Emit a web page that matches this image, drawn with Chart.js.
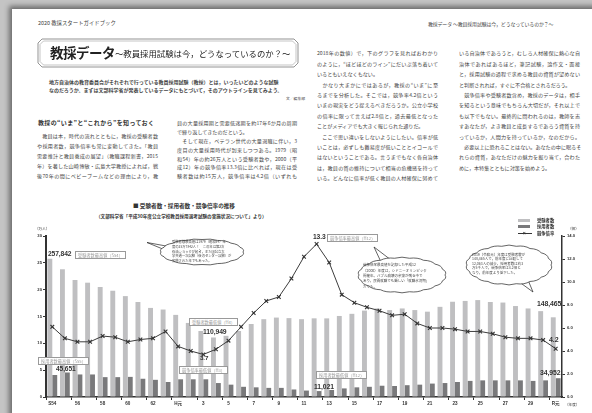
<!DOCTYPE html>
<html><head><meta charset="utf-8">
<script src="https://cdn.jsdelivr.net/npm/chart.js@4"></script>
<style>
html,body{margin:0;padding:0;width:592px;height:413px;overflow:hidden;background:#c4c4c4;}
body{position:relative;font-family:"Noto Sans CJK JP","Noto Sans",sans-serif;color:#333;}
.page{position:absolute;left:12px;top:9px;width:620px;height:430px;background:#fff;box-shadow:-2px -2px 5px 1px rgba(0,0,0,0.45);}
.t{position:absolute;white-space:nowrap;line-height:1;}
.ln{position:absolute;white-space:nowrap;line-height:1;text-align:justify;text-align-last:justify;font-size:5.1px;color:#444;}
.ln.l{text-align-last:left;}
.num{position:absolute;white-space:nowrap;line-height:1;font-family:"Liberation Sans",Arial,sans-serif;font-weight:bold;color:#333;letter-spacing:-0.1px;}
.box{position:absolute;white-space:nowrap;line-height:1;border:0.7px solid #9a9a9a;background:#fff;color:#9a9a9a;font-size:4.2px;padding:1px 2px;}
#cv{position:absolute;left:0;top:190px;}
svg{position:absolute;left:0;top:0;}
</style></head>
<body>
<div class="page"></div>

<div class="t" style="left:38px;top:21px;font-size:5.4px;color:#444;">2020 教採スタートガイドブック</div>
<div class="t" style="left:428px;top:21.5px;font-size:4.9px;color:#444;letter-spacing:-0.1px;">教採データ ～教員採用試験は今，どうなっているのか？～</div>

<svg width="592" height="413" style="z-index:1">
  <polygon points="42,39 294,39 298,43 298,63 294,67 42,67 38,63 38,43" fill="none" stroke="#666" stroke-width="0.7"/>
  <polygon points="43.5,41 292.5,41 296,44.5 296,61.5 292.5,65 43.5,65 40,61.5 40,44.5" fill="none" stroke="#888" stroke-width="0.5"/>
</svg>
<div class="t" style="left:50px;top:46px;font-size:13.5px;font-weight:bold;color:#222;letter-spacing:-0.5px;z-index:2">教採データ</div>
<div class="t" style="left:115px;top:49px;font-size:8.4px;color:#222;z-index:2">～教員採用試験は今，どうなっているのか？～</div>

<div class="t" style="left:49px;top:78.5px;font-size:5px;font-weight:bold;color:#444;">地方自治体の教育委員会がそれぞれで行っている教員採用試験（教採）とは，いったいどのような試験</div>
<div class="t" style="left:49px;top:87px;font-size:5px;font-weight:bold;color:#444;">なのだろうか。まずは文部科学省が発表しているデータにもとづいて，そのアウトラインを見てみよう。</div>
<div class="t" style="left:286px;top:97px;font-size:3.8px;color:#444;">文／編集部</div>

<div class="t" style="left:38px;top:120px;font-size:6px;font-weight:bold;color:#333;letter-spacing:0.35px;">教採の“いま”と“これから”を知っておく</div>

<div id="cols"></div>

<div class="t" style="left:133px;top:204px;font-size:5.6px;font-weight:bold;color:#333;">■ 受験者数・採用者数・競争倍率の推移</div>
<div class="t" style="left:96px;top:213.5px;font-size:4.6px;font-weight:bold;color:#333;">（文部科学省「平成30年度公立学校教員採用選考試験の実施状況について」より）</div>

<canvas id="cv" width="592" height="223"></canvas>

<svg id="bub" width="592" height="413" style="z-index:3"></svg>
<div id="ann" style="position:absolute;left:0;top:0;z-index:4"></div>

<script>
// ---------- data ----------
const categories = ['S54','S55','S56','S57','S58','S59','S60','S61','S62','S63',
  'H元','H2','H3','H4','H5','H6','H7','H8','H9','H10',
  'H11','H12','H13','H14','H15','H16','H17','H18','H19','H20',
  'H21','H22','H23','H24','H25','H26','H27','H28','H29','H30','R元'];
const tickLabels = ['S54','','56','','58','','60','','62','',
  'H元','','3','','5','','7','','9','',
  '11','','13','','15','','17','','19','',
  '21','','23','','25','','27','','29','','R元'];
// 受験者数（万人）
const applicants = [25.78,23.8,21.8,21.3,20.5,19.8,18.8,17.7,16.6,16.3,
  15.3,13.8,12.3,11.09,11.4,12.3,13.6,14.5,14.8,14.7,
  14.5,14.66,14.65,15.1,15.5,16.1,16.5,16.2,16.5,16.2,
  15.9,16.8,17.75,17.9,18.06,17.7,17.6,16.95,16.5,16.0,14.85];
// 採用者数（万人）
const hires = [4.1,4.565,4.2,4.2,3.7,3.7,3.75,3.4,3.2,2.8,
  3.3,3.3,3.3,2.6,2.3,1.9,1.8,1.7,1.7,1.4,
  1.2,1.102,1.3,1.6,1.8,1.9,2.1,2.05,2.2,2.3,
  2.5,2.6,2.8,3.0,3.1,3.1,3.1,3.1,3.0,3.1,3.5];
// 競争倍率（倍）
const rates = [6.1,5.1,4.8,4.8,5.3,5.2,4.8,5.0,5.1,5.7,
  4.4,4.0,3.7,4.15,4.9,6.1,7.3,8.35,8.7,10.3,
  12.2,13.3,11.7,8.9,8.2,7.8,7.5,7.1,7.2,6.4,
  6.0,6.0,5.9,5.7,5.7,5.5,5.2,5.1,5.1,4.95,4.2];
const leftTicksMax = 30, rightTicksMax = 14;

// ---------- page text ----------
const colText = [
  {x:37,w:121,y0:136,dy:10,lines:[
    ['　教員は本，時代の流れとともに，教採の受験者数',1],
    ['や採用者数，競争倍率も常に変動してきた。「教員',1],
    ['需要推計と教員養成の展望」（教職課程新書，2015',1],
    ['年）を著した山崎博敏・広島大学教授によれば，戦',1],
    ['後70年の間にベビーブームなどの理由により，教',1]]},
  {x:177,w:120,y0:123,dy:8.8,lines:[
    ['員の大量採用期と需要低迷期を約17年6か月の周期',1],
    ['で繰り返してきたのだという。',0],
    ['　そして現在，ベテラン世代の大量退職に伴い，3',1],
    ['度目の大量採用時代が到来しつつある。1979（昭',1],
    ['和54）年の約26万人という受験者数や，2000（平',1],
    ['成12）年の競争倍率13.3倍に比べれば，現在は受',1],
    ['験者数は約15万人，競争倍率は4.2倍（いずれも',1]]},
  {x:317,w:121,y0:53,dy:10.4,lines:[
    ['2018年の数値）で，下のグラフを見ればおわかり',1],
    ['のように，“ほどほどのライン”にだいぶ落ち着いて',1],
    ['いるともいえなくもない。',0],
    ['　かなり大まかにではあるが，教採の“いま”に至',1],
    ['るまでを分析した。そこでは，競争率4.2倍という',1],
    ['いまの現実をどう捉えるべきだろうか。公立小学校',1],
    ['の倍率に限って言えば2.8倍と，過去最低となった',1],
    ['ことがメディアでも大きく報じられた通りだ。',0],
    ['　ここで思い違いをしないようにしたい。倍率が低',1],
    ['いことは，必ずしも難易度が低いこととイコールで',1],
    ['はないということである。言うまでもなく各自治体',1],
    ['は，教員の質の維持について相当の危機感を持って',1],
    ['いる。どんなに倍率が低く教員の人材確保に努めて',1]]},
  {x:459,w:121,y0:53,dy:10.4,lines:[
    ['いる自治体であろうと，むしろ人材確保に熱心な自',1],
    ['治体であればあるほど，筆記試験，論作文・面接',1],
    ['と，採用試験の過程で求める教員の資質が望めない',1],
    ['と判断されれば，すぐに不合格とされるだろう。',0],
    ['　競争倍率や受験者数含め，教採のデータは，相手',1],
    ['を知るという意味でもちろん大切だが，それ以上で',1],
    ['も以下でもない。最終的に問われるのは，教師を志',1],
    ['すあなたが，よき教員と成長するであろう資質を持',1],
    ['っているか，人間力を持っているか，なのだから。',1],
    ['　必要以上に恐れることはない。あなたの中に眠るそ',1],
    ['れらの資質，あなただけの魅力を掘り当て，合わた',1],
    ['めに，本特集とともに対策を始めよう。',0]]}
];
const cols = document.getElementById('cols');
colText.forEach(c=>{
  c.lines.forEach((l,i)=>{
    const d=document.createElement('div');
    d.className='ln'+(l[1]?'':' l');
    d.style.left=c.x+'px'; d.style.width=c.w+'px';
    d.style.top=(c.y0+i*c.dy-2.6)+'px';
    d.textContent=l[0];
    cols.appendChild(d);
  });
});

// ---------- chart ----------
const FONT = '"Liberation Sans", "Noto Sans CJK JP", sans-serif';
const chart = new Chart(document.getElementById('cv'), {
  data:{
    labels:categories,
    datasets:[
      {type:'line',label:'競争倍率',data:rates,yAxisID:'y2',order:0,
       borderColor:'#3c3c3c',borderWidth:1,tension:0,
       pointStyle:'crossRot',pointRadius:2.6,pointBorderWidth:1.1,
       pointBorderColor:'#333',pointBackgroundColor:'#333'},
      {type:'bar',label:'受験者数',data:applicants,yAxisID:'y',order:1,
       backgroundColor:'#bfbfc1',categoryPercentage:0.78,barPercentage:1},
      {type:'bar',label:'採用者数',data:hires,yAxisID:'y',order:2,
       backgroundColor:'#79797b',categoryPercentage:0.78,barPercentage:1}
    ]
  },
  options:{
    responsive:false,animation:false,devicePixelRatio:1,
    layout:{padding:{top:46,left:0,right:0,bottom:0}},
    plugins:{legend:{display:false},tooltip:{enabled:false}},
    scales:{
      x:{type:'category',offset:true,
        grid:{display:true,drawOnChartArea:false,offset:true,tickLength:3,tickWidth:1,
          tickColor:(c)=> (c.index%2===0 ? '#333' : 'rgba(0,0,0,0)')},
        border:{display:true,color:'#333',width:1.5},
        ticks:{autoSkip:false,maxRotation:0,minRotation:0,padding:1,color:'#333',
          font:{size:4.6,weight:'bold',family:FONT},
          callback:(v,i)=>tickLabels[i]},
        afterFit(s){s.height=16;}
      },
      y:{position:'left',min:0,max:leftTicksMax,
        ticks:{stepSize:5,padding:1,color:'#333',font:{size:4.2,weight:'bold',family:FONT}},
        grid:{drawOnChartArea:false,tickLength:3,color:'#333',tickWidth:1},
        border:{color:'#333',width:2},
        afterFit(s){s.width=46;}
      },
      y2:{position:'right',min:0,max:rightTicksMax,
        ticks:{stepSize:2,padding:2,color:'#333',font:{size:4.2,weight:'bold',family:FONT},
          callback:(v)=>Number(v).toFixed(1)},
        grid:{drawOnChartArea:false,tickLength:3,color:'#333',tickWidth:1},
        border:{color:'#333',width:1.5},
        afterFit(s){s.width=30;}
      }
    }
  }
});

// ---------- annotations ----------
const ann = document.getElementById('ann');
function num(x,yc,size,txt){const d=document.createElement('div');d.className='num';d.style.left=x+'px';d.style.top=(yc-size/2)+'px';d.style.fontSize=size+'px';d.textContent=txt;ann.appendChild(d);}
function box(x,yc,txt){const d=document.createElement('div');d.className='box';d.style.left=x+'px';d.style.top=(yc-3.4)+'px';d.textContent=txt;ann.appendChild(d);}
function txt(x,yc,size,t,extra){const d=document.createElement('div');d.className='t';d.style.left=x+'px';d.style.top=(yc-size/2)+'px';d.style.fontSize=size+'px';d.textContent=t;if(extra)d.style.cssText+=extra;ann.appendChild(d);}

num(48,254.5,6.7,'257,842'); box(75,254.5,'受験者数最高値（S54）');
num(313,237.5,6.7,'13.3'); box(327,237,'競争倍率最高値（H12）');
box(189,321,'受験者数最低値（H4）'); num(203,332.5,6.8,'110,949');
num(200,358.5,6.2,'3.7'); box(179,369,'競争倍率最低値（H3）');
box(38,360,'採用者数最高値（S55）'); num(56,369.5,6.6,'45,651');
box(316,374.5,'採用者数最低値（H12）'); num(314,387,6.8,'11,021');
num(537,304.5,6.9,'148,465');
num(549,339,7,'4.2');
num(540,373.5,6.9,'34,952');

// legend & units
const lg = [['#bfbfc1','受験者数',220.5],['#79797b','採用者数',226.5]];
lg.forEach(r=>{const s=document.createElement('div');s.style.cssText=`position:absolute;left:518px;top:${r[2]-1.7}px;width:12px;height:3.4px;background:${r[0]}`;ann.appendChild(s);txt(537,r[2],4.3,r[1],'font-weight:bold;color:#333;');});
{const s=document.createElement('div');s.style.cssText='position:absolute;left:518px;top:232.5px;width:14px;height:1px;background:#333';ann.appendChild(s);
 txt(522.7,233,5,'×','font-family:"Liberation Sans";font-weight:bold;color:#333;');
 txt(537,233,4.3,'競争倍率','font-weight:bold;color:#333;');}
txt(568,228.5,3.6,'（倍）','color:#333;');
txt(35,228.5,3.6,'（万人）','color:#333;');
txt(565,404.5,3.6,'（年度）','color:#333;');

// ---------- speech bubbles ----------
const svg = document.getElementById('bub');
function cloud(cx,cy,rx,ry,n,b){
  let d='';
  for(let i=0;i<=n;i++){
    const a=2*Math.PI*i/n, px=cx+rx*Math.cos(a), py=cy+ry*Math.sin(a);
    if(i===0){d+=`M${px},${py}`;continue;}
    const am=2*Math.PI*(i-0.5)/n;
    const qx=cx+rx*(1+b)*Math.cos(am), qy=cy+ry*(1+b*1.6)*Math.sin(am);
    d+=` Q${qx},${qy} ${px},${py}`;
  }
  return d+'Z';
}
function bubble(cx,cy,rx,ry,n,tail,lines,lx,ly0,ldy,fs){
  const ns='http://www.w3.org/2000/svg';
  const t=document.createElementNS(ns,'polygon');
  t.setAttribute('points',tail.map(p=>p.join(',')).join(' '));
  t.setAttribute('fill','#fff');t.setAttribute('stroke','#222');t.setAttribute('stroke-width','0.7');
  svg.appendChild(t);
  const p=document.createElementNS(ns,'path');
  p.setAttribute('d',cloud(cx,cy,rx,ry,n,0.07));
  p.setAttribute('fill','#fff');p.setAttribute('stroke','#222');p.setAttribute('stroke-width','0.7');
  svg.appendChild(p);
  lines.forEach((l,i)=>txt(lx,ly0+i*ldy,fs,l,'color:#444;'));
}
bubble(202,252,41,12.5,16,[[166,246],[147,242.5],[170,252]],
  ['受験者数最高値は1979（昭和54）年','度の25万7842人！　この年は第2次','石油ショックが起き，また国公立大','学共通一次試験（後のセンター試験）が','実施された年でもあった。'],
  172,242,4.6,3.3);
bubble(402,275,43,17,18,[[381,262],[374,247],[391,260]],
  ['競争倍率最高値を記録した平成12','（2000）年度は，シドニーオリンピック','開催年。バブル崩壊の余波が残る中で','あり，民間就職でも厳しい「就職氷河期」','だった。'],
  363,265,5.4,3.5);
bubble(509,265,42,19,18,[[518,281],[533,292],[528,280]],
  ['2019（令和元）年度は受験者数が','148,465人で，前年度に比較して','12,063人の減少。採用者数は約3','万5千人で，競争倍率は4.2倍と','なり，前年度より低下した。'],
  472,254.5,4.5,3.5);
</script>
</body></html>
